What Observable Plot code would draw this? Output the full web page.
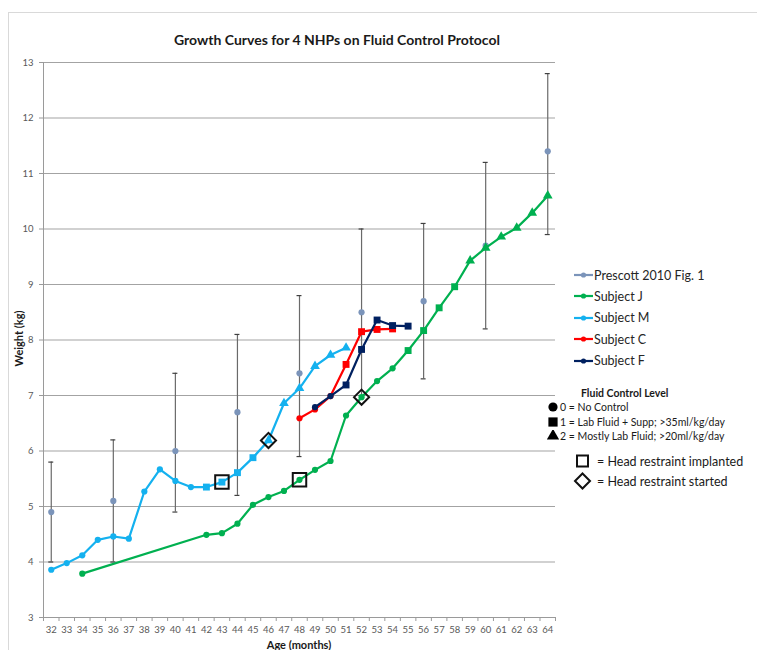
<!DOCTYPE html>
<html>
<head>
<meta charset="utf-8">
<script src="https://cdn.jsdelivr.net/npm/d3@7"></script>
<script src="https://cdn.jsdelivr.net/npm/@observablehq/plot@0.6"></script>
<style>
  body { margin: 0; background: #fff; font-family: Lato, "Open Sans", sans-serif; }
  #wrap { position: relative; width: 757px; height: 650px; overflow: hidden; background: #fff; }
  #frame { position: absolute; left: 8px; top: 12px; width: 800px; height: 700px; border: 1px solid #d9d9d9; }
  #chart { position: absolute; left: 0; top: 0; }
  .title { position: absolute; left: 0; width: 674px; top: 31px; text-align: center; font-weight: bold; font-size: 14px; color: #1a1a1a; }
  .xlab { position: absolute; left: 199px; width: 200px; top: 638px; text-align: center; font-weight: bold; font-size: 11px; color: #1a1a1a; }
  .ylab { position: absolute; left: -82px; width: 200px; top: 332px; text-align: center; font-weight: bold; font-size: 11px; color: #1a1a1a; transform: rotate(-90deg); }
  .leg { position: absolute; font-size: 12.5px; color: #262626; }
  .leg .row { position: absolute; left: 0; white-space: nowrap; display: flex; align-items: center; height: 20px; }
  .fluid { position: absolute; font-size: 10.5px; color: #1a1a1a; }
  .fluid .row { position: absolute; white-space: nowrap; display: flex; align-items: center; height: 14px; }
  .hr { position: absolute; font-size: 12.5px; color: #1a1a1a; }
  .hr .row { position: absolute; white-space: nowrap; display: flex; align-items: center; height: 18px; }
</style>
</head>
<body>
<div id="wrap">
  <div id="frame"></div>
  <div id="chart"></div>
  <div class="title">Growth Curves for 4 NHPs on Fluid Control Protocol</div>
  <div class="xlab">Age (months)</div>
  <div class="ylab">Weight (kg)</div>
  <div class="leg" id="legend" style="left:573px; top:265px;"></div>
  <div class="fluid" id="fluid" style="left:547px; top:386px;"></div>
  <div class="hr" id="hr" style="left:573px; top:452px;"></div>
</div>
<script>
// Age axis categories (months) and weight ticks (kg)
const ageTicks = d3.range(32, 65);
const weightTicks = [3, 4, 5, 6, 7, 8, 9, 10, 11, 12, 13];

// Prescott 2010 reference growth: mean with error-bar range
const prescottAge  = [32, 36, 40, 44, 48, 52, 56, 60, 64];
const prescottMean = [4.9, 5.1, 6.0, 6.7, 7.4, 8.5, 8.7, 9.7, 11.4];
const prescottLow  = [4.0, 4.0, 4.9, 5.2, 5.9, 7.0, 7.3, 8.2, 9.9];
const prescottHigh = [5.8, 6.2, 7.4, 8.1, 8.8, 10.0, 10.1, 11.2, 12.8];

// Subject weights; level = fluid control level (0, 1, 2)
const jAge    = [34, 42, 43, 44, 45, 46, 47, 48, 49, 50, 51, 52, 53, 54, 55, 56, 57, 58, 59, 60, 61, 62, 63, 64];
const jWeight = [3.79, 4.49, 4.52, 4.69, 5.03, 5.17, 5.28, 5.48, 5.66, 5.82, 6.64, 6.97, 7.26, 7.49, 7.81, 8.17, 8.58, 8.96, 9.43, 9.66, 9.86, 10.02, 10.29, 10.6];
const jLevel  = [0, 0, 0, 0, 0, 0, 0, 0, 0, 0, 0, 0, 0, 0, 1, 1, 1, 1, 2, 2, 2, 2, 2, 2];

const mAge    = [32, 33, 34, 35, 36, 37, 38, 39, 40, 41, 42, 43, 44, 45, 46, 47, 48, 49, 50, 51];
const mWeight = [3.86, 3.98, 4.12, 4.40, 4.46, 4.42, 5.27, 5.67, 5.46, 5.35, 5.35, 5.44, 5.61, 5.88, 6.19, 6.86, 7.13, 7.53, 7.73, 7.86];
const mLevel  = [0, 0, 0, 0, 0, 0, 0, 0, 0, 0, 1, 1, 1, 1, 2, 2, 2, 2, 2, 2];

const cAge    = [48, 49, 50, 51, 52, 53, 54];
const cWeight = [6.59, 6.75, 6.99, 7.56, 8.15, 8.19, 8.20];
const cLevel  = [0, 0, 0, 1, 1, 1, 1];

const fAge    = [49, 50, 51, 52, 53, 54, 55];
const fWeight = [6.79, 6.99, 7.19, 7.83, 8.36, 8.26, 8.25];
const fLevel  = [0, 0, 1, 1, 1, 1, 1];

// Head restraint events: [subject, age]
const implanted = [["Subject M", 43], ["Subject J", 48]];
const started   = [["Subject M", 46], ["Subject J", 52]];

const seriesNames  = ["Prescott 2010 Fig. 1", "Subject J", "Subject M", "Subject C", "Subject F"];
const seriesColors = ["#7b94ba", "#00b050", "#14b1ef", "#ff0000", "#002060"];
const levelLabels  = ["0 = No Control", "1 = Lab Fluid + Supp; >35ml/kg/day", "2 = Mostly Lab Fluid; >20ml/kg/day"];

const prescott = prescottAge.map((age, i) => ({age, mean: prescottMean[i], low: prescottLow[i], high: prescottHigh[i]}));
const subjects = [
  ["Subject J", jAge, jWeight, jLevel],
  ["Subject M", mAge, mWeight, mLevel],
  ["Subject C", cAge, cWeight, cLevel],
  ["Subject F", fAge, fWeight, fLevel]
].map(([name, ages, weights, levels]) => ({
  name,
  color: seriesColors[seriesNames.indexOf(name)],
  rows: ages.map((age, i) => ({age, weight: weights[i], level: levels[i]}))
}));

const lookup = ([name, age]) => {
  const s = subjects.find(d => d.name === name);
  return {age, weight: s.rows.find(r => r.age === age).weight};
};
const implantedPts = implanted.map(lookup);
const startedPts = started.map(lookup);

const boundaries = d3.range(31.5, 65, 1);
const capHalf = 0.16;

const symbolFor = [{symbol: "circle", r: 3.1}, {symbol: "square", r: 3.9}, {symbol: "triangle", r: 3.6}];

const seriesMarks = subjects.flatMap(s => [
  Plot.line(s.rows, {x: "age", y: "weight", stroke: s.color, strokeWidth: 2.2}),
  ...symbolFor.map((sym, lvl) =>
    Plot.dot(s.rows.filter(r => r.level === lvl), {x: "age", y: "weight", fill: s.color, symbol: sym.symbol, r: sym.r, stroke: "none"}))
]);

const chart = Plot.plot({
  width: 757,
  height: 650,
  marginLeft: 43,
  marginRight: 202,
  marginTop: 62,
  marginBottom: 33,
  style: {fontFamily: "Lato, 'Open Sans', sans-serif", fontSize: "9.5px", background: "transparent"},
  x: {domain: [31.5, 64.5]},
  y: {domain: [3, 13]},
  marks: [
    Plot.ruleY(weightTicks.filter(t => t > 3), {stroke: "#a3a3a3", strokeWidth: 1}),
    Plot.ruleX([31.5], {stroke: "#9a9a9a"}),
    Plot.ruleY([3], {stroke: "#9a9a9a"}),
    Plot.axisY(weightTicks, {tickSize: 4, tickPadding: 6, stroke: "#9a9a9a", fill: "#595959", label: null, tickFormat: d => d}),
    Plot.axisX(boundaries, {tickSize: 4, stroke: "#9a9a9a", tickFormat: () => "", label: null}),
    Plot.axisX(ageTicks, {tickSize: 0, tickPadding: 9, fill: "#595959", label: null, tickFormat: d => d}),
    // Prescott error bars with caps
    Plot.ruleX(prescott, {x: "age", y1: "low", y2: "high", stroke: "#6a6a6a", strokeWidth: 1.2}),
    Plot.ruleY(prescott, {y: "high", x1: d => d.age - capHalf, x2: d => d.age + capHalf, stroke: "#404040", strokeWidth: 1.2}),
    Plot.ruleY(prescott, {y: "low", x1: d => d.age - capHalf, x2: d => d.age + capHalf, stroke: "#404040", strokeWidth: 1.2}),
    Plot.dot(prescott, {x: "age", y: "mean", fill: seriesColors[0], r: 3.1, stroke: "none"}),
    ...seriesMarks,
    // Head restraint events
    Plot.dot(implantedPts, {x: "age", y: "weight", symbol: "square", r: 7.6, stroke: "#111", strokeWidth: 2, fill: "none"}),
    Plot.dot(startedPts, {x: "age", y: "weight", symbol: "diamond2", r: 6.8, stroke: "#111", strokeWidth: 2, fill: "none"})
  ]
});
document.getElementById("chart").appendChild(chart);

// Series legend
const legend = d3.select("#legend");
seriesNames.forEach((name, i) => {
  const row = legend.append("div").attr("class", "row").style("top", `${i * 21.4}px`);
  const svg = row.append("svg").attr("width", 21).attr("height", 10);
  svg.append("line").attr("x1", 1).attr("x2", 20).attr("y1", 5).attr("y2", 5).attr("stroke", seriesColors[i]).attr("stroke-width", 2.2);
  svg.append("circle").attr("cx", 10.5).attr("cy", 5).attr("r", 2.6).attr("fill", seriesColors[i]);
  row.append("span").text(name);
});

// Fluid control level key
const fluid = d3.select("#fluid");
fluid.append("div").attr("class", "row").style("left", "34px").style("top", "0px").style("font-weight", "bold").text("Fluid Control Level");
const shapes = [d3.symbolCircle, d3.symbolSquare, d3.symbolTriangle];
levelLabels.forEach((label, i) => {
  const row = fluid.append("div").attr("class", "row").style("left", "0px").style("top", `${14 + i * 14.5}px`);
  const svg = row.append("svg").attr("width", 12).attr("height", 12);
  const r = [4.6, 5.2, 4.6][i];
  svg.append("path").attr("transform", "translate(6,6)")
    .attr("d", d3.symbol(shapes[i], Math.PI * r * r)())
    .attr("fill", "#000");
  row.append("span").style("margin-left", "1px").text(label);
});

// Head restraint key
const hr = d3.select("#hr");
[["square", "= Head restraint implanted"], ["diamond", "= Head restraint started"]].forEach(([shape, label], i) => {
  const row = hr.append("div").attr("class", "row").style("top", `${i * 20}px`);
  const svg = row.append("svg").attr("width", 20).attr("height", 18);
  if (shape === "square") {
    svg.append("rect").attr("x", 4).attr("y", 3.5).attr("width", 11).attr("height", 11).attr("fill", "none").attr("stroke", "#111").attr("stroke-width", 2);
  } else {
    svg.append("path").attr("d", "M9.5,1.5 L17,9 L9.5,16.5 L2,9 Z").attr("fill", "none").attr("stroke", "#111").attr("stroke-width", 2);
  }
  row.append("span").style("margin-left", "4px").text(label);
});
</script>
</body>
</html>
